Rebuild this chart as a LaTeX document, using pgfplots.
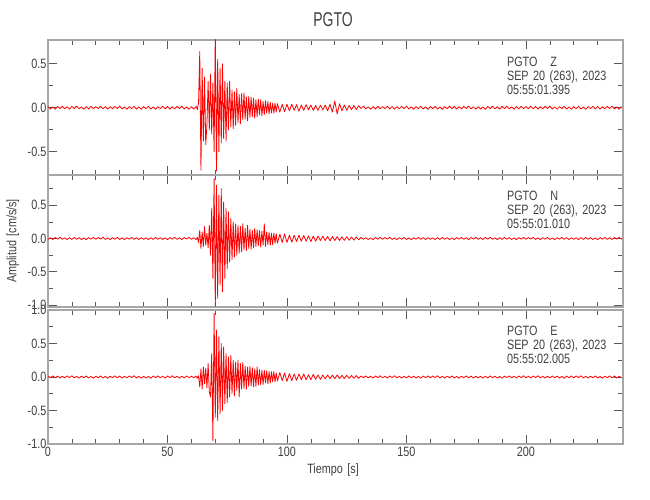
\documentclass[border=0pt]{standalone}
\usepackage{fontspec}
\setmainfont{Liberation Sans}[FakeStretch=0.8, WordSpace=1.5]
\newfontfamily\titlefont{Liberation Sans}[FakeStretch=0.7]
\usepackage{pgfplots}
\usepackage{pgfplotstable}
\pgfplotsset{compat=1.18}

\pgfplotstableread{
x z n e
0 0.012 -0.013 0.012
1 -0.015 0.011 -0.010
2 0.009 -0.016 0.017
3 -0.018 0.015 -0.013
4 0.014 -0.009 0.014
5 -0.010 0.018 -0.016
6 0.017 -0.012 0.011
7 -0.013 0.010 -0.012
8 0.011 -0.017 0.015
9 -0.016 0.013 -0.009
10 0.015 -0.014 0.018
11 -0.009 0.016 -0.014
12 0.018 -0.011 0.010
13 -0.012 0.012 -0.017
14 0.010 -0.015 0.013
15 -0.017 0.009 -0.011
16 0.013 -0.018 0.016
17 -0.014 0.014 -0.015
18 0.016 -0.010 0.009
19 -0.011 0.017 -0.018
20 0.012 -0.012 0.013
21 -0.010 0.015 -0.011
22 0.017 -0.009 0.016
23 -0.013 0.018 -0.015
24 0.014 -0.014 0.009
25 -0.016 0.010 -0.018
26 0.011 -0.017 0.012
27 -0.012 0.013 -0.010
28 0.015 -0.011 0.017
29 -0.009 0.016 -0.013
30 0.018 -0.015 0.014
31 -0.014 0.009 -0.016
32 0.010 -0.018 0.011
33 -0.017 0.012 -0.012
34 0.013 -0.010 0.015
35 -0.011 0.017 -0.009
36 0.016 -0.013 0.018
37 -0.015 0.014 -0.014
38 0.009 -0.016 0.010
39 -0.018 0.011 -0.017
40 0.013 -0.012 0.012
41 -0.011 0.010 -0.015
42 0.016 -0.017 0.009
43 -0.015 0.013 -0.018
44 0.009 -0.014 0.014
45 -0.018 0.016 -0.010
46 0.012 -0.011 0.017
47 -0.010 0.012 -0.013
48 0.017 -0.015 0.011
49 -0.013 0.009 -0.016
50 0.014 -0.018 0.015
51 -0.016 0.014 -0.009
52 0.011 -0.010 0.018
53 -0.012 0.017 -0.012
54 0.015 -0.013 0.010
55 -0.009 0.011 -0.017
56 0.018 -0.016 0.013
57 -0.014 0.015 -0.014
58 0.010 -0.009 0.016
59 -0.017 0.018 -0.011
60 0.012 -0.013 0.012
61 -0.015 0.011 -0.010
62.0 0.015 -0.015 0.012
62.5 -0.020 0.020 -0.018
63.0 0.060 -0.060 0.020
63.5 0.640 0.120 -0.150
64.0 -0.710 -0.150 0.120
64.5 0.450 0.100 -0.180
65.0 -0.380 -0.120 0.150
65.5 0.350 0.180 -0.100
66.0 -0.420 -0.100 0.130
66.5 -0.200 0.080 -0.160
67.0 0.300 -0.140 0.200
67.5 -0.250 0.200 -0.220
68.0 0.380 -0.250 -0.300
68.5 -0.300 0.450 0.350
69.0 0.280 -0.600 -0.950
69.5 -0.500 0.900 0.950
70.0 0.850 -1.020 -0.600
70.5 -0.720 0.800 0.700
71.0 0.550 -0.900 -0.650
71.5 -0.500 0.650 0.600
72.0 0.450 -0.700 -0.550
72.5 -0.400 0.750 0.500
73.0 0.500 -0.800 -0.500
73.5 -0.350 0.550 0.450
74.0 0.300 -0.600 -0.400
74.5 -0.380 0.450 0.350
75.0 0.280 -0.450 -0.380
75.5 -0.250 0.400 0.300
76.0 0.300 -0.350 -0.300
76.5 -0.220 0.300 0.320
77.0 0.200 -0.320 -0.250
77.5 -0.240 0.250 0.250
78.0 0.180 -0.280 -0.280
78.5 -0.200 0.220 0.220
79.0 0.220 -0.250 -0.200
79.5 -0.170 0.200 0.250
80.0 0.150 -0.220 -0.300
80.5 -0.180 0.180 0.200
81.0 0.160 -0.200 -0.180
81.5 -0.140 0.220 0.220
82.0 0.170 -0.170 -0.170
82.5 -0.130 0.150 0.160
83.0 0.120 -0.180 -0.180
83.5 -0.150 0.200 0.150
84.0 0.130 -0.150 -0.140
84.5 -0.110 0.140 0.160
85.0 0.120 -0.160 -0.130
85.5 -0.100 0.120 0.140
86.0 0.110 -0.140 -0.150
86.5 -0.120 0.150 0.120
87.0 0.090 -0.120 -0.140
87.5 -0.100 0.130 0.150
88.0 0.100 -0.110 -0.120
88.5 -0.080 0.120 0.110
89.0 0.090 -0.130 -0.120
89.5 -0.090 0.110 0.100
90.0 0.070 -0.100 -0.110
90.5 -0.080 0.220 0.100
91.0 0.080 -0.120 -0.090
91.5 -0.060 0.100 0.090
92.0 0.070 -0.090 -0.100
92.5 -0.070 0.090 0.080
93.0 0.060 -0.100 -0.090
93.5 -0.060 0.080 0.080
94.0 0.050 -0.090 -0.070
94.5 -0.060 0.080 0.080
95.0 0.050 -0.070 -0.070
95.5 -0.050 0.070 0.060
96 0.045 -0.070 -0.060
97 -0.050 0.065 0.065
98 0.040 -0.060 -0.055
99 -0.045 0.070 0.060
100 0.040 -0.060 -0.065
101 -0.035 0.050 0.050
102 0.040 -0.055 -0.055
103 -0.030 0.050 0.045
104 0.035 -0.045 -0.050
105 -0.040 0.050 0.045
106 0.030 -0.040 -0.040
107 -0.030 0.045 0.045
108 0.035 -0.040 -0.040
109 -0.025 0.040 0.035
110 0.030 -0.045 -0.040
111 -0.030 0.035 0.040
112 0.025 -0.040 -0.035
113 -0.030 0.035 0.030
114 0.028 -0.030 -0.035
115 -0.025 0.035 0.030
116 0.030 -0.030 -0.028
117 -0.035 0.030 0.030
118 0.040 -0.035 -0.025
119 -0.050 0.030 0.028
120 0.075 -0.030 -0.025
121 -0.070 0.028 0.030
122 0.045 -0.030 -0.022
123 -0.035 0.025 0.025
124 0.030 -0.028 -0.022
125 -0.028 0.025 0.024
126 0.025 -0.025 -0.020
127 -0.022 0.022 0.022
128 0.024 -0.025 -0.020
129 -0.020 0.022 0.021
130 0.022 -0.020 -0.019
131 -0.009 0.016 0.014
132 0.018 -0.011 -0.010
133 -0.012 0.012 0.017
134 0.010 -0.015 -0.013
135 -0.017 0.009 0.011
136 0.013 -0.018 -0.016
137 -0.014 0.014 0.015
138 0.016 -0.010 -0.009
139 -0.011 0.017 0.018
140 0.012 -0.012 -0.013
141 -0.010 0.015 0.011
142 0.017 -0.009 -0.016
143 -0.013 0.018 0.015
144 0.014 -0.014 -0.009
145 -0.016 0.010 0.018
146 0.011 -0.017 -0.012
147 -0.012 0.013 0.010
148 0.015 -0.011 -0.017
149 -0.009 0.016 0.013
150 0.018 -0.015 -0.014
151 -0.014 0.009 0.016
152 0.010 -0.018 -0.011
153 -0.017 0.012 0.012
154 0.013 -0.010 -0.015
155 -0.011 0.017 0.009
156 0.016 -0.013 -0.018
157 -0.015 0.014 0.014
158 0.009 -0.016 -0.010
159 -0.018 0.011 0.017
160 0.013 -0.012 -0.012
161 -0.011 0.010 0.015
162 0.016 -0.017 -0.009
163 -0.015 0.013 0.018
164 0.009 -0.014 -0.014
165 -0.018 0.016 0.010
166 0.012 -0.011 -0.017
167 -0.010 0.012 0.013
168 0.017 -0.015 -0.011
169 -0.013 0.009 0.016
170 0.014 -0.018 -0.015
171 -0.016 0.014 0.009
172 0.011 -0.010 -0.018
173 -0.012 0.017 0.012
174 0.015 -0.013 -0.010
175 -0.009 0.011 0.017
176 0.018 -0.016 -0.013
177 -0.014 0.015 0.014
178 0.010 -0.009 -0.016
179 -0.017 0.018 0.011
180 0.012 -0.013 -0.012
181 -0.015 0.011 0.010
182 0.009 -0.016 -0.017
183 -0.018 0.015 0.013
184 0.014 -0.009 -0.014
185 -0.010 0.018 0.016
186 0.017 -0.012 -0.011
187 -0.013 0.010 0.012
188 0.011 -0.017 -0.015
189 -0.016 0.013 0.009
190 0.015 -0.014 -0.018
191 -0.009 0.016 0.014
192 0.018 -0.011 -0.010
193 -0.012 0.012 0.017
194 0.010 -0.015 -0.013
195 -0.017 0.009 0.011
196 0.013 -0.018 -0.016
197 -0.014 0.014 0.015
198 0.016 -0.010 -0.009
199 -0.011 0.017 0.018
200 0.012 -0.012 -0.013
201 -0.010 0.015 0.011
202 0.017 -0.009 -0.016
203 -0.013 0.018 0.015
204 0.014 -0.014 -0.009
205 -0.016 0.010 0.018
206 0.011 -0.017 -0.012
207 -0.012 0.013 0.010
208 0.015 -0.011 -0.017
209 -0.009 0.016 0.013
210 0.018 -0.015 -0.014
211 -0.014 0.009 0.016
212 0.010 -0.018 -0.011
213 -0.017 0.012 0.012
214 0.013 -0.010 -0.015
215 -0.011 0.017 0.009
216 0.016 -0.013 -0.018
217 -0.015 0.014 0.014
218 0.009 -0.016 -0.010
219 -0.018 0.011 0.017
220 0.013 -0.012 -0.012
221 -0.011 0.010 0.015
222 0.016 -0.017 -0.009
223 -0.015 0.013 0.018
224 0.009 -0.014 -0.014
225 -0.018 0.016 0.010
226 0.012 -0.011 -0.017
227 -0.010 0.012 0.013
228 0.017 -0.015 -0.011
229 -0.013 0.009 0.016
230 0.014 -0.018 -0.015
231 -0.016 0.014 0.009
232 0.011 -0.010 -0.018
233 -0.012 0.017 0.012
234 0.015 -0.013 -0.010
235 -0.009 0.011 0.017
236 0.018 -0.016 -0.013
237 -0.014 0.015 0.014
238 0.010 -0.009 -0.016
239 -0.017 0.018 0.011
240 0.012 -0.013 -0.012
}\seis

\pgfplotsset{
  seis/.style={
    scale only axis, width=575pt,
    xmin=0, xmax=240.6,
    xtick={0,50,100,150,200},
    minor xtick={10,20,30,40,60,70,80,90,110,120,130,140,160,170,180,190,210,220,230},
    minor ytick={-0.75,-0.25,0.25,0.75},
    tick align=inside, tick pos=both,
    xticklabel pos=lower, yticklabel pos=left,
    major tick length=9pt, minor tick length=5pt,
    axis line style={draw=black!35, line width=1.1pt},
    tick style={draw=black!65, line width=0.6pt},
    ticklabel style={text=black!75},
    yticklabel style={inner xsep=1.5pt},
    yticklabel={\pgfmathprintnumber[fixed,fixed zerofill,precision=1]{\tick}},
    /pgf/number format/assume math mode=true,
    every axis title/.style={at={(0.4957,1.1481)}, anchor=center, text=black!75,
      font=\titlefont\fontsize{20}{20}\selectfont},
    every axis x label/.style={at={(0.4957,-0.194)}, anchor=center, text=black!75},
    every axis y label/.style={at={(-0.0609,0.5)}, rotate=90, anchor=center, text=black!75},
  },
  trace/.style={red, line width=0.8pt, line join=round, no marks},
}
\tikzset{ann/.style={anchor=north west, inner sep=0pt, align=left, text=black!75}}

\begin{document}
\begin{tikzpicture}[font=\fontsize{13.5}{14.2}\selectfont]
\path[use as bounding box] (0,0) rectangle (650pt,500pt);

% Z component
\begin{axis}[seis, at={(48pt,325pt)}, anchor=south west, height=135pt,
  ymin=-0.765, ymax=0.77, ytick={-0.5,0,0.5}, minor ytick={-0.25,0.25},
  xticklabels={}, title={PGTO}]
\addplot[trace] table[x=x, y=z] {\seis};
\node[ann] at (rel axis cs:0.798,0.876) {PGTO\hspace{13pt}Z\\SEP 20 (263), 2023\\05:55:01.395};
\end{axis}

% N component
\begin{axis}[seis, at={(48pt,193pt)}, anchor=south west, height=132pt,
  ymin=-1.03, ymax=0.955, ytick={-1,-0.5,0,0.5},
  xticklabels={}, ylabel={Amplitud [cm/s/s]}]
\addplot[trace] table[x=x, y=n] {\seis};
\node[ann] at (rel axis cs:0.798,0.883) {PGTO\hspace{13pt}N\\SEP 20 (263), 2023\\05:55:01.010};
\end{axis}

% E component
\begin{axis}[seis, at={(48pt,56pt)}, anchor=south west, height=134pt,
  ymin=-1.0, ymax=1.0, ytick={-1,-0.5,0,0.5,1},
  xlabel={Tiempo [s]}]
\addplot[trace] table[x=x, y=e] {\seis};
\node[ann] at (rel axis cs:0.798,0.884) {PGTO\hspace{13pt}E\\SEP 20 (263), 2023\\05:55:02.005};
\end{axis}
\end{tikzpicture}
\end{document}
